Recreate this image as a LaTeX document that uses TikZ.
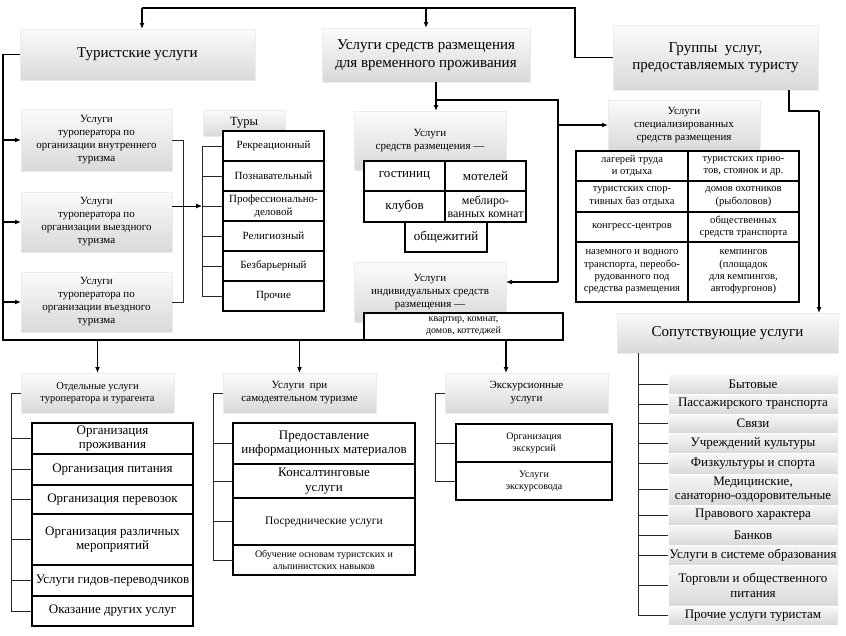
\documentclass[tikz,border=0pt]{standalone}
\usepackage{fontspec}
\setmainfont{Liberation Serif}
\usetikzlibrary{arrows.meta}
\begin{document}
\begin{tikzpicture}[x=1pt,y=-1pt,
  every node/.style={inner sep=1pt, outer sep=0pt, align=center, anchor=north west},
  hdr/.style={top color=gray!3, bottom color=gray!30, draw=gray!15, line width=0.5pt},
  cell/.style={draw=black, line width=1.1pt, fill=white},
  item/.style={top color=gray!6, bottom color=gray!30, draw=white, line width=0.8pt},
  conn/.style={line width=1.3pt},
  arr/.style={line width=1.3pt, -{Latex[length=6pt,width=5pt]}},
  arrthin/.style={line width=0.8pt, -{Latex[length=6pt,width=5pt]}},
  brk/.style={line width=0.7pt, black!85},
  fXL/.style={font=\fontsize{15}{17.5}\selectfont},
  fL/.style={font=\fontsize{13}{14.5}\selectfont},
  fM/.style={font=\fontsize{11}{13}\selectfont},
  fS/.style={font=\fontsize{10}{12}\selectfont},
  fT/.style={font=\fontsize{10.6}{12.3}\selectfont},
]
\useasboundingbox[fill=white] (0,0) rectangle (846,635);

% ---------- top level headers ----------
\node[hdr,fXL,minimum width=235pt,minimum height=51pt] (tur) at (20,29) {Туристские услуги};
\node[hdr,fXL,minimum width=208pt,minimum height=54pt] (usl) at (322,28) {Услуги средств размещения\\для временного проживания};
\node[hdr,fXL,minimum width=205pt,minimum height=65pt] (grp) at (613,25) {Группы\ \ услуг,\\предоставляемых туристу};

% ---------- tour operator boxes ----------
\node[hdr,fM,minimum width=151pt,minimum height=62pt] (op1) at (21,109) {Услуги\\туроператора по\\организации внутреннего\\туризма};
\node[hdr,fM,minimum width=151pt,minimum height=60pt] (op2) at (21,192) {Услуги\\туроператора по\\организации выездного\\туризма};
\node[hdr,fM,minimum width=151pt,minimum height=60pt] (op3) at (21,272) {Услуги\\туроператора по\\организации въездного\\туризма};

% ---------- tours ----------
\node[hdr,font=\fontsize{12.5}{14}\selectfont,minimum width=82pt,minimum height=26pt] (tury) at (203,110) {\raisebox{4pt}{Туры}};
\node[cell,fM,minimum width=101pt,minimum height=30pt] (t1) at (223,131) {Рекреационный};
\node[cell,fM,minimum width=101pt,minimum height=30pt] (t2) at (223,161) {Познавательный};
\node[cell,fM,minimum width=101pt,minimum height=30pt] (t3) at (223,191) {Профессионально-\\деловой};
\node[cell,fM,minimum width=101pt,minimum height=30pt] (t4) at (223,221) {Религиозный};
\node[cell,fM,minimum width=101pt,minimum height=30pt] (t5) at (223,251) {Безбарьерный};
\node[cell,fM,minimum width=101pt,minimum height=30pt] (t6) at (223,281) {Прочие};

% ---------- accommodation (middle) ----------
\node[hdr,fM,minimum width=152pt,minimum height=59pt] (razm) at (354,111) {\raisebox{8pt}{\begin{tabular}{@{}c@{}}Услуги\\средств размещения —\end{tabular}}};
\node[cell,fL,minimum width=81pt,minimum height=30pt] (c1) at (364,161) {гостиниц};
\node[cell,fL,minimum width=81pt,minimum height=30pt] (c2) at (445,161) {мотелей};
\node[cell,fL,minimum width=81pt,minimum height=31pt] (c3) at (364,191) {клубов};
\node[cell,font=\fontsize{12}{13}\selectfont,minimum width=81pt,minimum height=31pt] (c4) at (445,191) {меблиро-\\ванных комнат};
\node[cell,fL,minimum width=82pt,minimum height=30pt] (c5) at (405,222) {общежитий};

\node[hdr,fM,minimum width=152pt,minimum height=60pt] (indiv) at (354,262) {\raisebox{7pt}{\begin{tabular}{@{}c@{}}Услуги\\индивидуальных средств\\размещения —\end{tabular}}};
\node[cell,fS,minimum width=199pt,minimum height=27pt] (kv) at (364,313) {квартир, комнат,\\домов, коттеджей};

% ---------- specialised accommodation ----------
\node[hdr,fM,minimum width=152pt,minimum height=50pt] (spec) at (608,100) {Услуги\\специализированных\\средств размещения};
\node[cell,fT,minimum width=112pt,minimum height=30pt] (s11) at (576,151) {лагерей труда\\и отдыха};
\node[cell,fT,minimum width=111pt,minimum height=30pt] (s12) at (688,151) {туристских прию-\\тов, стоянок и др.};
\node[cell,fT,minimum width=112pt,minimum height=31pt] (s21) at (576,181) {туристских спор-\\тивных баз отдыха};
\node[cell,fT,minimum width=111pt,minimum height=31pt] (s22) at (688,181) {домов охотников\\(рыболовов)};
\node[cell,fT,minimum width=112pt,minimum height=30pt] (s31) at (576,212) {конгресс-центров};
\node[cell,fT,minimum width=111pt,minimum height=30pt] (s32) at (688,212) {общественных\\средств транспорта};
\node[cell,fT,minimum width=112pt,minimum height=60pt] (s41) at (576,242) {наземного и водного\\транспорта, переобо-\\рудованного под\\средства размещения};
\node[cell,fT,minimum width=111pt,minimum height=60pt] (s42) at (688,242) {кемпингов\\(площадок\\для кемпингов,\\автофургонов)};

% ---------- accompanying services ----------
\node[hdr,fXL,minimum width=221pt,minimum height=40pt] (sop) at (617,313) {Сопутствующие услуги};
\node[item,fL,minimum width=170pt,minimum height=20pt] (so1) at (668,374) {Бытовые};
\node[item,fL,minimum width=170pt,minimum height=20pt] (so2) at (668,394) {Пассажирского транспорта};
\node[item,fL,minimum width=170pt,minimum height=19pt] (so3) at (668,414) {Связи};
\node[item,fL,minimum width=170pt,minimum height=20pt] (so4) at (668,433) {Учреждений культуры};
\node[item,fL,minimum width=170pt,minimum height=21pt] (so5) at (668,453) {Физкультуры и спорта};
\node[item,fL,minimum width=170pt,minimum height=31pt] (so6) at (668,474) {Медицинские,\\санаторно-оздоровительные};
\node[item,fL,minimum width=170pt,minimum height=20pt] (so7) at (668,505) {Правового характера};
\node[item,fL,minimum width=170pt,minimum height=20pt] (so8) at (668,525) {Банков};
\node[item,fL,minimum width=170pt,minimum height=20pt] (so9) at (668,545) {Услуги в системе образования};
\node[item,fL,minimum width=170pt,minimum height=41pt] (so10) at (668,565) {Торговли и общественного\\питания};
\node[item,fL,minimum width=170pt,minimum height=19pt] (so11) at (668,606) {Прочие услуги туристам};

% ---------- bottom left ----------
\node[hdr,font=\fontsize{10.5}{12.5}\selectfont,minimum width=153pt,minimum height=40pt] (ot) at (21,373) {Отдельные услуги\\туроператора и турагента};
\node[cell,fL,minimum width=161pt,minimum height=31pt] (b1) at (32,423) {Организация\\проживания};
\node[cell,fL,minimum width=161pt,minimum height=31pt] (b2) at (32,454) {Организация питания};
\node[cell,fL,minimum width=161pt,minimum height=29pt] (b3) at (32,485) {Организация перевозок};
\node[cell,fL,minimum width=161pt,minimum height=51pt] (b4) at (32,514) {Организация различных\\мероприятий};
\node[cell,fL,minimum width=161pt,minimum height=31pt] (b5) at (32,565) {Услуги гидов-переводчиков};
\node[cell,fL,minimum width=161pt,minimum height=30pt] (b6) at (32,596) {Оказание других услуг};

% ---------- bottom middle ----------
\node[hdr,fM,minimum width=153pt,minimum height=40pt] (sam) at (223,373) {Услуги\ \ при\\самодеятельном туризме};
\node[cell,fL,minimum width=182pt,minimum height=41pt] (m1) at (233,423) {Предоставление\\информационных материалов};
\node[cell,fL,minimum width=182pt,minimum height=34pt] (m2) at (233,464) {Консалтинговые\\услуги};
\node[cell,font=\fontsize{11.5}{13}\selectfont,minimum width=182pt,minimum height=47pt] (m3) at (233,498) {Посреднические услуги};
\node[cell,fS,minimum width=182pt,minimum height=30pt] (m4) at (233,545) {Обучение основам туристских и\\альпинистских навыков};

% ---------- bottom excursions ----------
\node[hdr,fM,minimum width=163pt,minimum height=40pt] (exc) at (445,373) {Экскурсионные\\услуги};
\node[cell,fS,minimum width=156pt,minimum height=38pt] (e1) at (456,424) {Организация\\экскурсий};
\node[cell,fS,minimum width=156pt,minimum height=38pt] (e2) at (456,462) {Услуги\\экскурсовода};

% ---------- connectors ----------
\coordinate (topL) at (142,8);
\coordinate (topR) at (575,8);
\draw[conn] (grp.west) -| (topR) -- (topL);
\draw[arr] (topL) -- (topL |- tur.north);
\draw[arr] (usl.north |- topL) -- (usl.north);

\coordinate (Lb) at (3,340);
\draw[conn] (tur.west) -| (Lb) -- (kv.south east);
\foreach \n in {op1,op2,op3} \draw[arr] (\n.west -| Lb) -- (\n.west);

\coordinate (ob) at (183,0);
\coordinate (tb) at (202,0);
\draw[brk] (op1.east) -| (ob |- op3.east) -- (op3.east);
\draw[brk] (t1.west) -| (tb |- t6.west) -- (t6.west);
\foreach \n in {t2,t4,t5} \draw[brk] (\n.west) -- (\n.west -| tb);
\draw[brk] (t3.west) -- (t3.west -| tb);
\draw[arrthin] (op2.east |- t3.west) -- (t3.west -| tb);

\coordinate (j1) at (436,100);
\coordinate (j2) at (558,100);
\coordinate (j3) at (558,282);
\draw[conn] (usl.south -| j1) -- (j1) -- (j2) -- (j3);
\draw[arr] (j1) -- (j1 |- razm.north);
\draw[arr] (j3) -- (j3 -| indiv.east);
\draw[arr] (spec.west -| j2) -- (spec.west);

\coordinate (g1) at (789,111);
\coordinate (g2) at (819,111);
\draw[conn] (g1 |- grp.south) -- (g1) -- (g2);
\draw[arr] (g2) -- (g2 |- sop.north);

\coordinate (sb) at (638,0);
\draw[brk] (sop.south -| sb) |- (so11.west);
\foreach \n in {so1,so2,so3,so4,so5,so6,so7,so8,so9,so10} \draw[brk] (\n.west) -- (\n.west -| sb);

\draw[arr] (ot.north |- Lb) -- (ot.north);
\draw[arr] (sam.north |- Lb) -- (sam.north);
\coordinate (ea) at (506,340);
\draw[arr] (ea) -- (ea |- exc.north);

\coordinate (bb1) at (11,0);
\draw[brk] (ot.west) -| (bb1 |- b6.west) -- (b6.west);
\foreach \n in {b1,b2,b3,b4,b5} \draw[brk] (\n.west) -- (\n.west -| bb1);

\coordinate (bb2) at (213,0);
\draw[brk] (sam.west) -| (bb2 |- m4.west) -- (m4.west);
\foreach \n in {m1,m2,m3} \draw[brk] (\n.west) -- (\n.west -| bb2);

\coordinate (bb3) at (435,0);
\draw[brk] (exc.west) -| (bb3 |- e2.west) -- (e2.west);
\draw[brk] (e1.west) -- (e1.west -| bb3);
\end{tikzpicture}
\end{document}
